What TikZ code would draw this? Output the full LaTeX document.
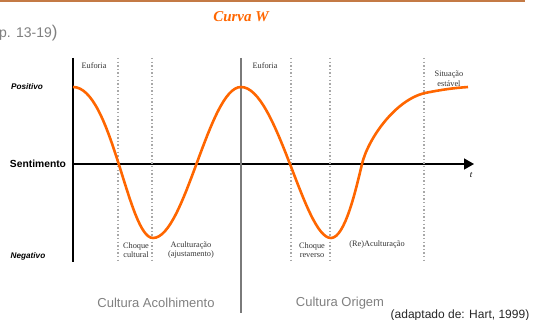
\documentclass[tikz,border=0pt]{standalone}
\usepackage{fontspec}
\setmainfont{Liberation Serif}
\setsansfont{Liberation Sans}
\usetikzlibrary{arrows.meta, positioning, calc}
\definecolor{corange}{HTML}{FF6600}
\definecolor{cbrown}{HTML}{C47A45}
\definecolor{cgraytxt}{HTML}{808080}
\definecolor{cdot}{HTML}{A8A8A8}
\definecolor{cdiv}{HTML}{7A7A7A}

\begin{document}
\begin{tikzpicture}[
    x=1pt, y=-1pt,
    axis/.style={draw=black, line width=1.5pt},
    sep/.style={draw=cdot, line width=1.4pt, dash pattern=on 1.4pt off 2.2pt},
    phase/.style={font=\fontsize{8.3}{9.6}\selectfont, align=center,
        text=black!80, inner sep=0pt},
    level/.style={font=\sffamily\bfseries\itshape\fontsize{8.2}{10}\selectfont,
        inner sep=0pt},
    culture/.style={font=\sffamily\fontsize{13}{15}\selectfont,
        text=cgraytxt, inner sep=0pt},
    wcurve/.style={draw=corange, line width=2.6pt}
]
\useasboundingbox (0,0) rectangle (536,320);

%% Header
\draw[cbrown, line width=1.5pt] (0,1) -- (525,1);
\node[font=\bfseries\itshape\fontsize{15}{18}\selectfont, text=corange] (title) at (241,17) {Curva W};
\node[font=\sffamily\fontsize{14}{17}\selectfont, text=cgraytxt, anchor=west, inner sep=0pt]
    (ref) at (-1,33) {p. 13-19{\fontsize{17}{17}\selectfont)}};

%% Axes
\coordinate (o)    at (73,164);
\coordinate (ytop) at (73,58);
\coordinate (ybot) at (73,262);
\coordinate (xend) at (474,164);
\draw[axis] (ytop) -- (ybot);
\draw[axis, -{Triangle[length=10pt,width=11pt]}] (o) -- (xend);
\node[font=\itshape\fontsize{9}{10}\selectfont] (t) at (471,175) {t};

%% Phase limits
\foreach \x in {118,152,291,330,424}
    \draw[sep] (\x,58) -- (\x,262);
\coordinate (divtop) at (241,58);
\coordinate (divbot) at (241,313);
\draw[draw=cdiv, line width=2pt] (divtop) -- (divbot);

%% Axis labels
\node[font=\sffamily\bfseries\fontsize{10.3}{12}\selectfont] (sent) at (38,164) {Sentimento};
\node[level] (pos) at (27,87)  {Positivo};
\node[level] (neg) at (28,256) {Negativo};

%% Curve
\draw[wcurve] (73,87) .. controls (112,87) and (128,238) .. (153,238)
    .. controls (185,238) and (209,87) .. (241,87)
    .. controls (277,87) and (304,238) .. (331,238)
    .. controls (345,238) and (356,189) .. (362,164)
    .. controls (368,139) and (395,100) .. (425,93)
    .. controls (445,89) and (455,88) .. (468,87);

%% Phase names
\node[phase] (euf1)  at (94,66)   {Euforia};
\node[phase] (euf2)  at (265,66)  {Euforia};
\node[phase] (stab)  at (449,79)  {Situação\\estável};
\node[phase] (shock) at (136,250) {Choque\\cultural};
\node[phase] (accul) at (191,250) {Aculturação\\(ajustamento)};
\node[phase] (rshock) at (312,250) {Choque\\reverso};
\node[phase] (raccul) at (377,245) {(Re)Aculturação};

%% Cultures and source
\node[culture] (host)   at (156,303) {Cultura Acolhimento};
\node[culture] (origin) at (340,303) {Cultura Origem};
\node[font=\sffamily\fontsize{12}{14}\selectfont, text=black!85, inner sep=0pt]
    (src) at (460,315) {(adaptado de: Hart, 1999)};

\end{tikzpicture}
\end{document}
